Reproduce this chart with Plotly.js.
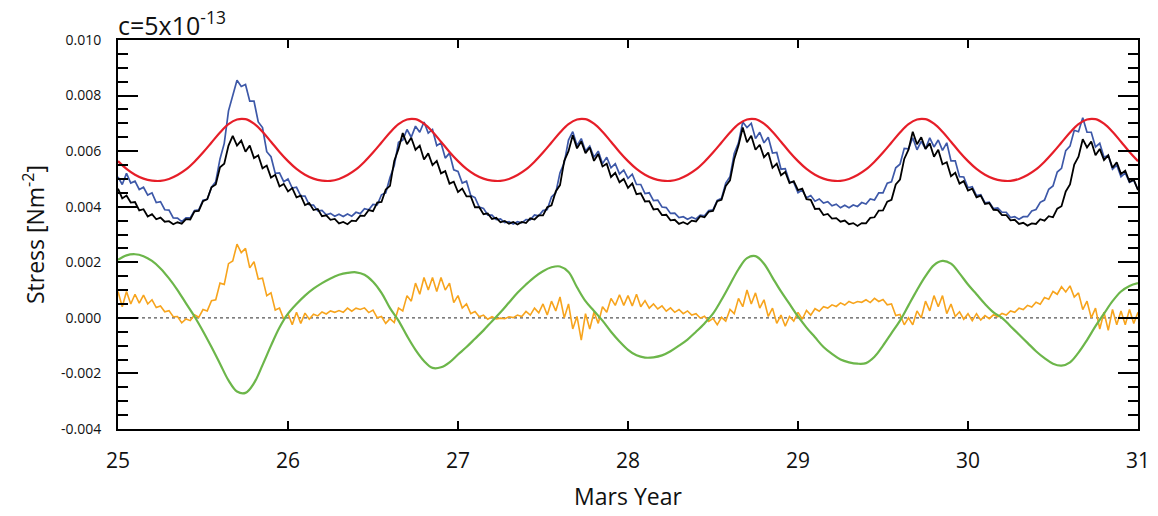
<!DOCTYPE html>
<html>
<head>
<meta charset="utf-8">
<script src="https://cdn.plot.ly/plotly-3.0.1.min.js"></script>
<style>
  html, body { margin: 0; padding: 0; background: #fff; }
  #chart { width: 1158px; height: 516px; }
</style>
</head>
<body>
<div id="chart"></div>
<script>
// Values in units of 1e-3 N m^-2.
// Fine grid (noisy series): Mars Year 25.000 .. 31.000 every 0.025
const fineStart = 25, fineStep = 0.025, fineCount = 241;
// Coarse grid (smooth series): Mars Year 25.00 .. 31.00 every 0.05
const coarseStart = 25, coarseStep = 0.05, coarseCount = 121;

const blackSeries = [
  4.65,4.30,4.40,4.15,4.17,3.87,3.91,3.65,3.73,3.55,3.61,3.46,3.48,3.37,3.44,3.39,3.55,3.54,3.83,3.85,4.2,4.27,4.7,4.8,5.42,5.55,6.2,6.55,6.2,6.38,5.98,6.2,5.75,5.85,5.38,5.48,5.05,5.15,4.73,4.82,
  4.55,4.67,4.34,4.4,4.06,4.13,3.88,3.92,3.66,3.69,3.53,3.56,3.4,3.45,3.37,3.5,3.48,3.68,3.67,3.88,3.84,4.15,4.17,4.62,4.75,5.65,6.08,6.65,6.25,6.48,6.05,6.2,5.7,5.92,5.5,5.65,5.2,5.28,4.83,4.9,
  4.53,4.65,4.37,4.37,3.98,3.98,3.73,3.76,3.56,3.6,3.44,3.49,3.39,3.45,3.36,3.45,3.41,3.58,3.54,3.69,3.69,3.98,4.05,4.55,4.78,5.65,6.0,6.57,6.1,6.35,5.93,6.13,5.65,5.9,5.45,5.55,5.07,5.22,4.88,5.0,
  4.68,4.84,4.45,4.48,4.19,4.2,3.9,3.92,3.7,3.71,3.51,3.53,3.38,3.44,3.37,3.5,3.47,3.66,3.62,3.82,3.85,4.2,4.25,4.75,4.95,5.72,6.2,6.85,6.32,6.55,6.05,6.23,5.78,5.95,5.4,5.55,5.13,5.25,4.85,4.92,
  4.6,4.65,4.27,4.25,3.92,3.93,3.7,3.74,3.57,3.59,3.46,3.5,3.37,3.41,3.31,3.41,3.4,3.6,3.62,3.86,3.87,4.18,4.25,4.8,4.98,5.72,6.05,6.7,6.25,6.5,6.08,6.28,5.8,6.05,5.53,5.6,5.1,5.22,4.83,4.92,
  4.58,4.65,4.34,4.4,4.1,4.13,3.89,3.88,3.7,3.7,3.51,3.53,3.38,3.42,3.32,3.4,3.38,3.55,3.5,3.66,3.62,3.93,4.02,4.55,4.8,5.52,5.8,6.43,6.13,6.35,5.85,6.08,5.68,5.85,5.4,5.6,5.18,5.3,4.9,4.97,4.6
];

const blueSeries = [
  5.07,4.8,5.2,4.85,4.92,4.62,4.7,4.42,4.5,4.15,4.18,3.89,3.88,3.6,3.59,3.46,3.6,3.6,3.86,3.89,4.23,4.27,4.7,4.9,5.72,6.28,7.45,8.0,8.55,8.33,8.4,7.8,7.8,7.05,6.85,5.98,5.8,5.2,5.22,4.9,
  5.0,4.67,4.7,4.39,4.38,4.07,4.06,3.85,3.87,3.71,3.76,3.66,3.73,3.65,3.74,3.66,3.8,3.75,3.93,3.89,4.08,4.07,4.43,4.5,5.05,5.48,6.32,6.4,6.78,6.5,6.9,6.68,7.05,6.65,6.78,6.2,6.3,5.75,5.93,5.33,
  5.27,4.85,4.92,4.4,4.33,3.99,3.94,3.7,3.7,3.54,3.56,3.43,3.46,3.38,3.46,3.42,3.54,3.53,3.7,3.67,3.86,3.9,4.35,4.5,5.22,5.58,6.4,6.7,6.2,6.45,6.0,6.18,5.78,6.0,5.55,5.78,5.4,5.55,5.18,5.32,
  5.02,5.17,4.8,4.8,4.47,4.5,4.22,4.24,3.99,3.97,3.76,3.77,3.61,3.64,3.55,3.62,3.56,3.7,3.67,3.86,3.89,4.23,4.3,4.85,5.08,5.92,6.3,7.05,6.85,7.0,6.45,6.68,6.3,6.5,5.93,5.95,5.35,5.37,4.9,4.87,
  4.5,4.6,4.32,4.4,4.2,4.28,4.13,4.18,4.03,4.09,3.96,4.05,3.96,4.06,4.01,4.15,4.1,4.28,4.24,4.5,4.5,4.85,4.9,5.4,5.53,6.1,6.08,6.48,6.05,6.35,6.08,6.48,6.15,6.4,6.03,6.3,5.65,5.65,5.08,5.07,
  4.68,4.72,4.4,4.43,4.14,4.16,3.93,3.96,3.8,3.8,3.61,3.64,3.55,3.64,3.64,3.85,3.9,4.16,4.24,4.63,4.75,5.25,5.38,6.02,6.18,6.75,6.7,7.2,6.68,6.68,6.15,6.28,5.78,5.85,5.35,5.5,5.08,5.22,4.88,4.95,4.62
];

const orangeSeries = [
  0.95,0.4,0.95,0.5,0.85,0.53,0.82,0.5,0.65,0.37,0.43,0.22,0.26,0.04,0.05,-0.18,-0.04,-0.1,0.11,0.02,0.3,0.25,0.62,0.65,1.25,1.2,1.95,2.05,2.65,2.35,2.5,1.8,2.02,1.4,1.43,0.8,0.9,0.28,0.35,-0.05,
  0.15,-0.25,0.2,-0.2,0.17,-0.05,0.13,0.07,0.21,0.14,0.25,0.2,0.26,0.2,0.35,0.24,0.35,0.3,0.36,0.19,0.28,0.0,0.05,-0.2,-0.03,-0.17,0.35,0.25,0.8,0.6,1.25,0.85,1.45,1.0,1.45,0.95,1.45,1.0,1.25,0.55,
  0.8,0.35,0.5,0.15,0.23,0.04,0.1,-0.05,0.04,-0.04,-0.01,-0.03,0.04,0.01,0.1,0.05,0.23,0.1,0.35,0.18,0.5,0.1,0.6,0.25,0.75,0.0,0.5,-0.4,0.05,-0.8,0.15,-0.4,0.2,-0.2,0.4,0.2,0.7,0.45,0.83,0.45,
  0.8,0.43,0.85,0.4,0.62,0.35,0.5,0.32,0.43,0.24,0.36,0.2,0.3,0.15,0.25,0.1,0.15,-0.01,0.06,-0.13,-0.02,-0.25,0.02,-0.12,0.3,0.15,0.7,0.4,1.0,0.5,0.9,0.35,0.65,0.05,0.35,-0.2,0.1,-0.3,0.05,-0.12,
  0.2,-0.05,0.27,0.1,0.33,0.24,0.4,0.35,0.47,0.41,0.54,0.46,0.59,0.52,0.59,0.56,0.65,0.55,0.7,0.59,0.66,0.47,0.5,0.08,0.12,-0.25,0.0,-0.25,0.25,0.0,0.6,0.25,0.8,0.4,0.8,0.15,0.5,0.05,0.22,-0.05,
  0.15,-0.1,0.15,-0.08,0.08,-0.03,0.11,0.04,0.16,0.1,0.25,0.2,0.35,0.3,0.45,0.39,0.56,0.49,0.73,0.67,0.95,0.85,1.12,0.93,1.15,0.75,0.9,0.3,0.6,0.0,0.35,-0.4,0.2,-0.45,0.3,-0.25,0.25,-0.25,0.3,-0.2,0.2
];

const redSeries = [
  5.64,5.36,5.15,5.01,4.94,4.93,5.00,5.14,5.34,5.62,5.95,6.31,6.67,6.97,7.14,7.15,6.99,6.70,6.34,5.97,
  5.64,5.36,5.15,5.01,4.94,4.93,5.00,5.14,5.34,5.62,5.95,6.31,6.67,6.97,7.14,7.15,6.99,6.70,6.34,5.97,
  5.64,5.36,5.15,5.01,4.94,4.93,5.00,5.14,5.34,5.62,5.95,6.31,6.67,6.97,7.14,7.15,6.99,6.70,6.34,5.97,
  5.64,5.36,5.15,5.01,4.94,4.93,5.00,5.14,5.34,5.62,5.95,6.31,6.67,6.97,7.14,7.15,6.99,6.70,6.34,5.97,
  5.64,5.36,5.15,5.01,4.94,4.93,5.00,5.14,5.34,5.62,5.95,6.31,6.67,6.97,7.14,7.15,6.99,6.70,6.34,5.97,
  5.64,5.36,5.15,5.01,4.94,4.93,5.00,5.14,5.34,5.62,5.95,6.31,6.67,6.97,7.14,7.15,6.99,6.70,6.34,5.97,
  5.64
];

const greenSeries = [
  2.09,2.25,2.29,2.22,2.05,1.78,1.42,1.0,0.52,0.05,-0.48,-1.05,-1.65,-2.25,-2.65,-2.7,-2.35,-1.7,-1.0,-0.35,
  0.15,0.5,0.8,1.05,1.25,1.42,1.55,1.62,1.64,1.55,1.3,0.9,0.35,-0.1,-0.65,-1.15,-1.55,-1.8,-1.78,-1.6,
  -1.32,-1.05,-0.75,-0.45,-0.12,0.2,0.55,0.9,1.2,1.47,1.68,1.82,1.85,1.65,1.1,0.6,0.25,-0.1,-0.5,-0.85,
  -1.15,-1.35,-1.43,-1.42,-1.35,-1.2,-1.0,-0.78,-0.5,-0.2,0.15,0.65,1.2,1.75,2.15,2.22,1.95,1.45,0.95,0.5,
  0.05,-0.35,-0.7,-1.05,-1.3,-1.5,-1.6,-1.65,-1.63,-1.4,-1.0,-0.55,-0.1,0.45,1.0,1.5,1.9,2.05,1.95,1.6,
  1.2,0.85,0.5,0.2,0.0,-0.3,-0.6,-0.9,-1.2,-1.45,-1.65,-1.72,-1.6,-1.25,-0.8,-0.3,0.15,0.6,0.95,1.15,
  1.25
];

const yTickVals = [-0.004, -0.002, 0.000, 0.002, 0.004, 0.006, 0.008, 0.010];
const yTickText = ["-0.004", "-0.002", "0.000", "0.002", "0.004", "0.006", "0.008", "0.010"];
const xTickVals = [25, 26, 27, 28, 29, 30, 31];

const titleText = "c=5x10<sup>-13</sup>";
const xTitle = "Mars Year";
const yTitle = "Stress [Nm<sup>-2</sup>]";

const unit = 0.001;
const fineX = Array.from({length: fineCount}, (_, i) => +(fineStart + i * fineStep).toFixed(3));
const coarseX = Array.from({length: coarseCount}, (_, i) => +(coarseStart + i * coarseStep).toFixed(3));
const toStress = arr => arr.map(v => v * unit);

const FONT = "Open Sans, Noto Sans, sans-serif";

const traces = [
  { x: fineX, y: toStress(blueSeries), mode: "lines", line: { color: "#3d58a8", width: 1.7 }, hoverinfo: "skip" },
  { x: fineX, y: toStress(blackSeries), mode: "lines", line: { color: "#000000", width: 1.8 }, hoverinfo: "skip" },
  { x: coarseX, y: toStress(redSeries), mode: "lines", line: { color: "#e61e28", width: 2.2, shape: "spline" }, hoverinfo: "skip" },
  { x: fineX, y: toStress(orangeSeries), mode: "lines", line: { color: "#f7a41d", width: 1.6 }, hoverinfo: "skip" },
  { x: coarseX, y: toStress(greenSeries), mode: "lines", line: { color: "#6cb64a", width: 2.2, shape: "spline" }, hoverinfo: "skip" }
];

const layout = {
  width: 1158, height: 516,
  margin: { l: 118, r: 20, t: 40, b: 87 },
  paper_bgcolor: "#ffffff", plot_bgcolor: "#ffffff",
  showlegend: false,
  font: { family: FONT, color: "#111111" },
  title: {
    text: titleText,
    font: { family: FONT, size: 25, color: "#111111" },
    xref: "paper", x: 0, xanchor: "left",
    yref: "container", y: 0.95, yanchor: "middle"
  },
  xaxis: {
    range: [25, 31],
    tickvals: xTickVals,
    ticks: "inside", ticklen: 8, tickwidth: 2, tickcolor: "#000",
    showline: true, linewidth: 2, linecolor: "#000", mirror: "ticks",
    showgrid: false, zeroline: false,
    tickfont: { family: FONT, size: 21, color: "#111" },
    ticklabelstandoff: 12,
    title: { text: xTitle, font: { family: FONT, size: 23, color: "#111" }, standoff: 16 }
  },
  yaxis: {
    range: [-0.004, 0.010],
    tickvals: yTickVals, ticktext: yTickText,
    ticks: "inside", ticklen: 20, tickwidth: 2, tickcolor: "#000",
    minor: { dtick: 0.0005, tick0: 0, ticks: "inside", ticklen: 10, tickwidth: 2, tickcolor: "#000", showgrid: false },
    showline: true, linewidth: 2, linecolor: "#000", mirror: "ticks",
    showgrid: false, zeroline: false,
    tickfont: { family: FONT, size: 14, color: "#111" },
    ticklabelstandoff: 12,
    title: { text: yTitle, font: { family: FONT, size: 23, color: "#111" }, standoff: 10 }
  },
  shapes: [
    { type: "line", xref: "paper", x0: 0, x1: 1, yref: "y", y0: 0, y1: 0,
      line: { color: "#555555", width: 1.2, dash: "dot" }, layer: "below" }
  ]
};

Plotly.newPlot("chart", traces, layout, { staticPlot: true, displayModeBar: false });
</script>
</body>
</html>
